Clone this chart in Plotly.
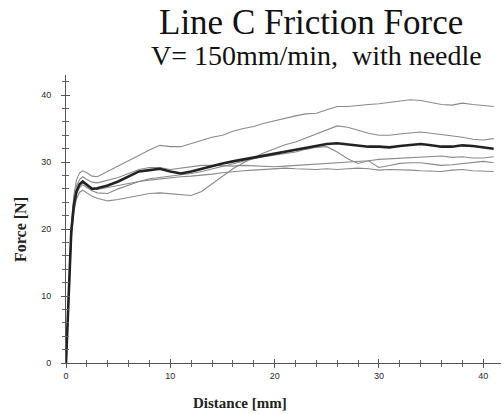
import plotly.graph_objects as go

# distance grid [mm]
dist = [0, 0.25, 0.5, 0.75, 1.0, 1.3, 1.6, 2.0, 2.5, 3, 4, 5, 6, 7, 8, 9, 10,
        11, 12, 13, 14, 15, 16, 17, 18, 19, 20, 21, 22, 23, 24, 25, 26, 27, 28,
        29, 30, 31, 32, 33, 34, 35, 36, 37, 38, 39, 40, 41]

# individual runs [N]
run_a = [0, 11.5, 20.5, 25.0, 27.3, 28.4, 28.7, 28.4, 27.9, 27.8, 28.6, 29.4, 30.3, 31.1, 31.8, 32.5, 32.3,
         32.3, 32.8, 33.3, 33.7, 34.0, 34.6, 35.0, 35.3, 35.8, 36.2, 36.6, 36.9, 37.2, 37.3, 37.8, 38.3, 38.3, 38.5,
         38.6, 38.7, 38.9, 39.1, 39.3, 39.2, 38.9, 38.6, 38.5, 38.8, 38.6, 38.4, 38.3]
run_b = [0, 10.5, 18.5, 22.5, 24.5, 25.5, 25.8, 25.4, 24.9, 24.6, 24.2, 24.4, 24.7, 25.0, 25.3, 25.4, 25.3,
         25.1, 25.0, 25.6, 26.7, 27.8, 29.0, 29.9, 30.7, 31.4, 32.0, 32.6, 33.0, 33.6, 34.2, 34.8, 35.4, 35.2, 34.7,
         34.3, 34.0, 34.0, 34.2, 34.4, 34.5, 34.3, 34.1, 34.0, 33.7, 33.4, 33.3, 33.5]
run_c = [0, 11.2, 20.0, 24.3, 26.4, 27.4, 27.8, 27.4, 27.0, 26.9, 27.3, 27.7, 28.3, 28.9, 29.2, 29.2, 28.9,
         29.1, 29.3, 29.5, 29.5, 29.4, 29.4, 29.5, 29.4, 29.3, 29.3, 29.4, 29.5, 29.5, 29.6, 29.7, 29.8, 29.9, 30.0,
         30.2, 30.4, 30.5, 30.6, 30.6, 30.8, 30.9, 30.9, 30.7, 30.8, 30.6, 30.6, 30.8]
run_d = [0, 10.8, 19.0, 23.0, 25.2, 26.2, 26.6, 26.2, 25.7, 25.4, 25.3, 26.0, 26.6, 27.1, 27.5, 27.7, 27.8,
         28.0, 28.3, 28.6, 29.0, 29.4, 29.8, 30.2, 30.5, 30.8, 31.0, 31.3, 31.5, 31.9, 32.2, 32.3, 31.5, 30.5, 29.8,
         30.2, 29.2, 29.5, 29.8, 29.9, 29.9, 29.7, 29.5, 29.6, 29.8, 30.0, 30.1, 29.9]
run_e = [0, 11.0, 19.3, 23.3, 25.5, 26.5, 26.9, 26.5, 26.0, 25.9, 26.2, 26.5, 26.9, 27.1, 27.3, 27.5, 27.6,
         27.8, 27.9, 28.0, 28.2, 28.4, 28.6, 28.7, 28.8, 28.9, 29.0, 29.1, 29.0, 28.9, 28.9, 29.0, 28.9, 29.0, 29.1,
         29.0, 28.8, 28.9, 28.9, 28.8, 28.7, 28.6, 28.6, 28.8, 28.9, 28.7, 28.6, 28.6]
# mean curve [N]
mean_run = [0, 11.0, 19.5, 23.5, 25.6, 26.7, 27.1, 26.6, 26.0, 26.1, 26.5, 27.1, 27.9, 28.6, 28.8, 29.0, 28.6,
            28.3, 28.6, 29.0, 29.5, 29.8, 30.1, 30.4, 30.7, 31.0, 31.2, 31.5, 31.8, 32.1, 32.4, 32.7, 32.8, 32.6, 32.5,
            32.3, 32.3, 32.2, 32.4, 32.6, 32.7, 32.5, 32.3, 32.3, 32.5, 32.4, 32.2, 32.0]

x_major = [0, 10, 20, 30, 40]
y_major = [0, 10, 20, 30, 40]

fig = go.Figure()

for run in [run_a, run_b, run_c, run_d, run_e]:
    fig.add_trace(go.Scatter(x=dist, y=run, mode='lines',
                             line=dict(color='#8a8a8a', width=1.1)))

fig.add_trace(go.Scatter(x=dist, y=mean_run, mode='lines',
                         line=dict(color='#222222', width=2.6)))

tick_font = dict(family='Liberation Sans, Arial', size=9, color='#2a2a2a')

axis_common = dict(showgrid=False, zeroline=False, showline=True, linecolor='#555555', linewidth=1,
                   ticks='outside', ticklen=4, tickcolor='#555555', tickfont=tick_font,
                   minor=dict(dtick=2, ticks='outside', ticklen=3, tickcolor='#666666'))

fig.update_layout(
    width=504, height=414,
    margin=dict(l=66, r=3, t=75, b=51),
    paper_bgcolor='white', plot_bgcolor='white',
    showlegend=False,
    xaxis=dict(range=[0, 41.7], tickvals=x_major, **axis_common),
    yaxis=dict(range=[0, 43], tickvals=y_major, ticklabelstandoff=8, **axis_common),
    # overlay axes to draw the inner half of the cross ticks
    xaxis2=dict(range=[0, 41.7], overlaying='x', anchor='y', side='bottom', showline=False,
                showgrid=False, zeroline=False, showticklabels=False, tickvals=x_major,
                ticks='inside', ticklen=4, tickcolor='#555555',
                minor=dict(dtick=2, ticks='inside', ticklen=3, tickcolor='#666666')),
    yaxis2=dict(range=[0, 43], overlaying='y', anchor='x', side='left', showline=False,
                showgrid=False, zeroline=False, showticklabels=False, tickvals=y_major,
                ticks='inside', ticklen=4, tickcolor='#555555',
                minor=dict(dtick=2, ticks='inside', ticklen=3, tickcolor='#666666')),
)

# dummy trace so the overlay axes are drawn
fig.add_trace(go.Scatter(x=[None], y=[None], xaxis='x2', yaxis='y2', showlegend=False))

serif = 'Liberation Serif, Times New Roman, serif'
W, H = 435, 288
fig.add_annotation(text='Line C Friction Force', xref='paper', yref='paper',
                   x=(311 - 66) / W, y=1 + (75 - 23) / H, showarrow=False,
                   xanchor='center', yanchor='middle',
                   font=dict(family=serif, size=35, color='#111111'))
fig.add_annotation(text='V= 150mm/min,\u00a0 with needle', xref='paper', yref='paper',
                   x=(316 - 66) / W, y=1 + (75 - 56) / H, showarrow=False,
                   xanchor='center', yanchor='middle',
                   font=dict(family=serif, size=28, color='#111111'))
fig.add_annotation(text='<b>Distance [mm]</b>', xref='paper', yref='paper',
                   x=(240 - 66) / W, y=-(403 - 363) / H, showarrow=False,
                   xanchor='center', yanchor='middle',
                   font=dict(family=serif, size=15, color='#222222'))
fig.add_annotation(text='<b>Force [N]</b>', xref='paper', yref='paper', textangle=-90,
                   x=-(66 - 20) / W, y=(363 - 230) / H, showarrow=False,
                   xanchor='center', yanchor='middle',
                   font=dict(family=serif, size=16, color='#222222'))

# drop the default page margin so the figure sits at the window's corner
fig.write_html("out.html", config={'displayModeBar': False},
               post_script="document.body.style.margin='0';")
